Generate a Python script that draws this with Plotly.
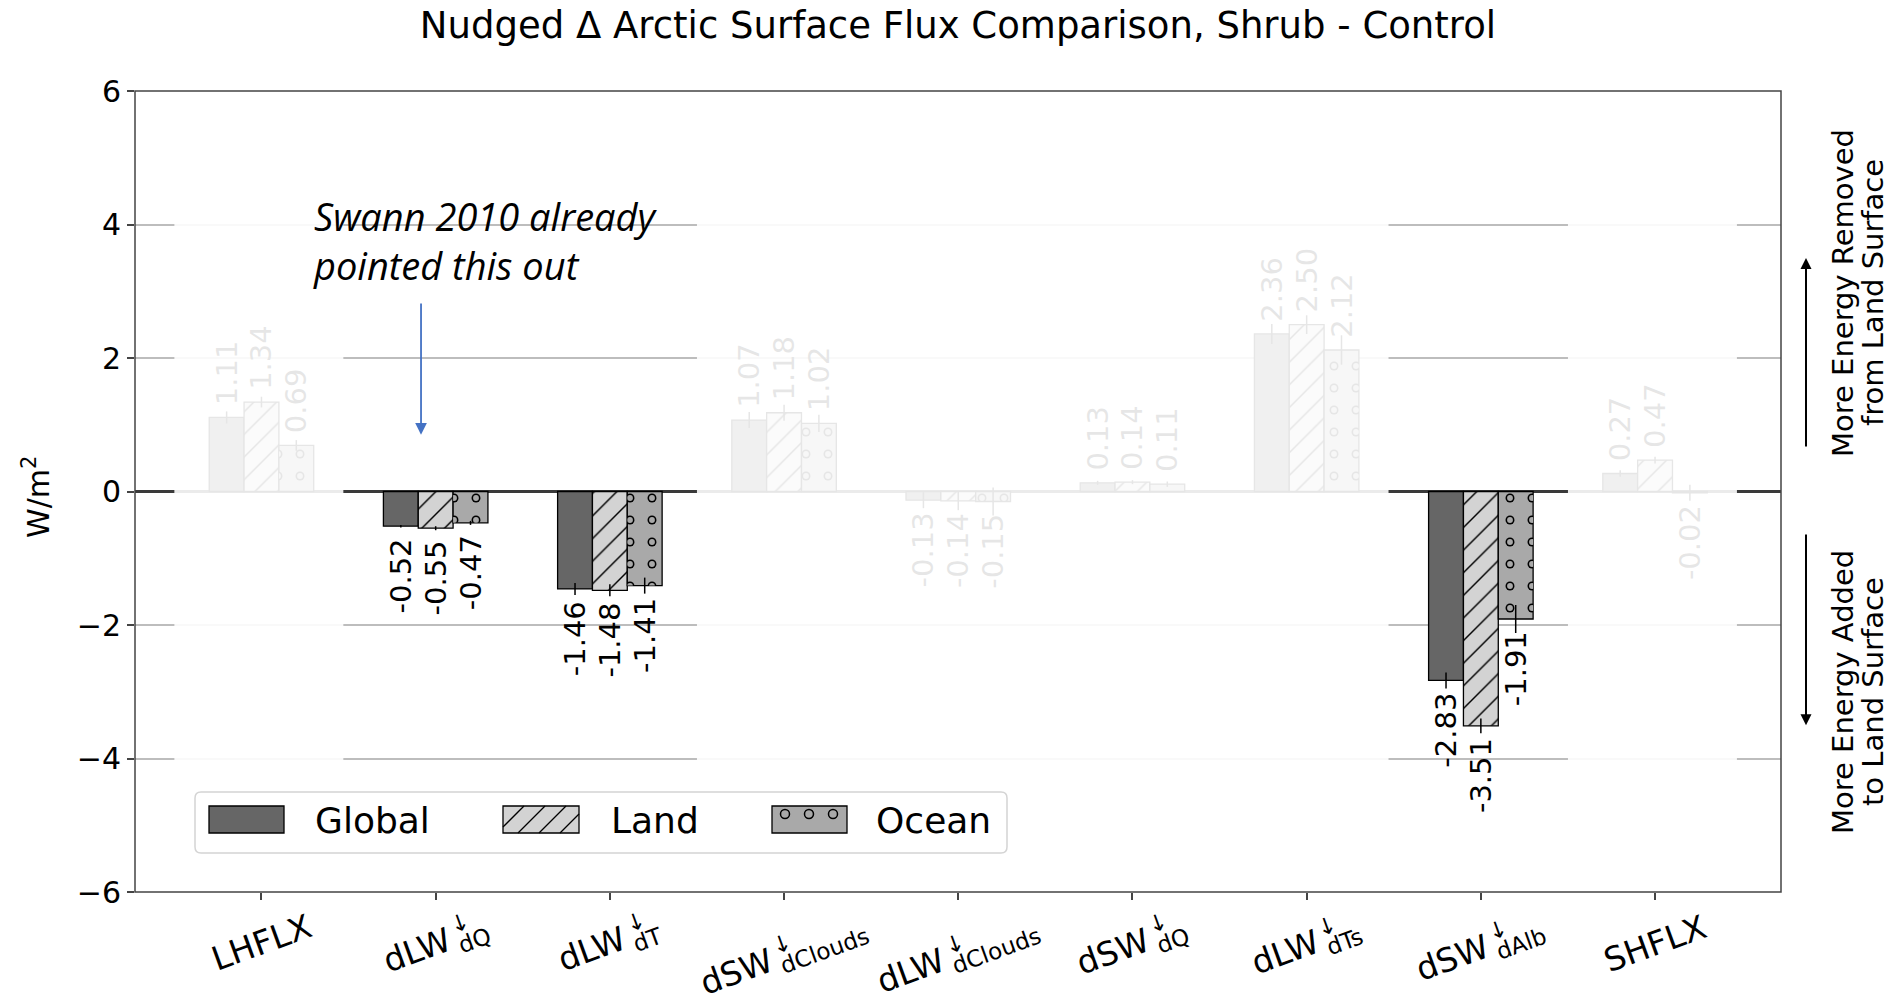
import math
import plotly.graph_objects as go

# ---- data -------------------------------------------------------------
label_main = ["LHFLX", "dLW", "dLW", "dSW", "dLW", "dSW", "dLW", "dSW", "SHFLX"]
label_sub = ["", "dQ", "dT", "dClouds", "dClouds", "dQ", "dTs", "dAlb", ""]

global_vals = [1.11, -0.52, -1.46, 1.07, -0.13, 0.13, 2.36, -2.83, 0.27]
land_vals = [1.34, -0.55, -1.48, 1.18, -0.14, 0.14, 2.50, -3.51, 0.47]
ocean_vals = [0.69, -0.47, -1.41, 1.02, -0.15, 0.11, 2.12, -1.91, -0.02]

global_err = [0.09, 0.02, 0.09, 0.12, 0.12, 0.03, 0.15, 0.12, 0.05]
land_err = [0.08, 0.03, 0.09, 0.12, 0.14, 0.03, 0.14, 0.11, 0.05]
ocean_err = [0.08, 0.03, 0.12, 0.13, 0.21, 0.04, 0.22, 0.21, 0.12]

# groups drawn at full strength; the rest are washed out
highlighted = [False, True, True, False, False, False, False, True, False]

y_ticks = [-6, -4, -2, 0, 2, 4, 6]

# ---- geometry ---------------------------------------------------------
FIG_W, FIG_H = 1891, 1003
L, R, T, B = 135, 1781, 91, 892
X_RANGE = [-0.726, 8.723]
Y_RANGE = [-6, 6]
BAR_W = 0.2
FONT = "DejaVu Sans"


def px_x(px):
    return (px - L) / (R - L)


def px_y(py):
    return (B - py) / (B - T)


xs = list(range(len(label_main)))
PAD = "\u00a0"


def bar_labels(vals):
    out = []
    for v in vals:
        s = f"{v:.2f}"
        out.append(s + PAD if v < 0 else PAD + s)
    return out


series = [
    dict(name="Global", vals=global_vals, err=global_err, offset=-0.3,
         marker=dict(color="#666666", line=dict(color="black", width=1.3))),
    dict(name="Land", vals=land_vals, err=land_err, offset=-0.1,
         marker=dict(color="#d3d3d3", line=dict(color="black", width=1.3),
                     pattern=dict(shape="/", fgcolor="black", bgcolor="#d3d3d3",
                                  size=16, solidity=0.09))),
    dict(name="Ocean", vals=ocean_vals, err=ocean_err, offset=0.1,
         marker=dict(color="#a9a9a9", line=dict(color="black", width=1.3),
                     pattern=dict(shape=".", fgcolor="black", bgcolor="#a9a9a9",
                                  size=22, solidity=0.13))),
]

fig = go.Figure()
for s in series:
    fig.add_trace(go.Bar(
        name=s["name"], x=xs, y=s["vals"], width=BAR_W, offset=s["offset"],
        marker=s["marker"],
        error_y=dict(type="data", array=s["err"], color="black", thickness=1.5, width=0),
        text=bar_labels(s["vals"]), textposition="outside", textangle=-90,
        textfont=dict(family=FONT, size=29, color="black"),
        constraintext="none", cliponaxis=False, hoverinfo="skip", showlegend=False,
    ))

# grey centres punched into the ocean dots -> open circles
fig.add_trace(go.Bar(
    x=xs, y=ocean_vals, width=BAR_W, offset=0.1,
    marker=dict(color="rgba(0,0,0,0)", line=dict(width=0),
                pattern=dict(shape=".", fgcolor="#a9a9a9", bgcolor="rgba(0,0,0,0)",
                             size=22, solidity=0.055)),
    hoverinfo="skip", showlegend=False,
))

# ---- shapes -----------------------------------------------------------
shapes = []

# white wash over the non-highlighted groups
n = len(label_main)
i = 0
while i < n:
    if not highlighted[i]:
        j = i
        while j + 1 < n and not highlighted[j + 1]:
            j += 1
        shapes.append(dict(type="rect", xref="x", yref="y", x0=i - 0.5, x1=j + 0.47,
                           y0=Y_RANGE[0], y1=Y_RANGE[1], fillcolor="white", opacity=0.9,
                           line=dict(width=0), layer="above"))
        i = j + 1
    else:
        i += 1

# axes frame
shapes.append(dict(type="rect", xref="paper", yref="paper", x0=0, x1=1, y0=0, y1=1,
                   line=dict(color="#444444", width=1.5), fillcolor="rgba(0,0,0,0)",
                   layer="above"))

# legend box (rounded)
lx0, lx1, ly0, ly1 = px_x(195), px_x(1007), px_y(853), px_y(792)
rx, ry = 6 / (R - L), 6 / (B - T)
box_path = (f"M{lx0+rx},{ly1} L{lx1-rx},{ly1} Q{lx1},{ly1} {lx1},{ly1-ry} "
            f"L{lx1},{ly0+ry} Q{lx1},{ly0} {lx1-rx},{ly0} L{lx0+rx},{ly0} "
            f"Q{lx0},{ly0} {lx0},{ly0+ry} L{lx0},{ly1-ry} Q{lx0},{ly1} {lx0+rx},{ly1} Z")
shapes.append(dict(type="path", xref="paper", yref="paper", path=box_path,
                   fillcolor="rgba(255,255,255,0.85)", line=dict(color="#d4d4d4", width=1.5),
                   layer="above"))


def patch(px0, px1, py0, py1, color):
    return dict(type="rect", xref="paper", yref="paper", x0=px_x(px0), x1=px_x(px1),
                y0=px_y(py1), y1=px_y(py0), fillcolor=color,
                line=dict(color="black", width=1.3), layer="above")


PY0, PY1 = 806, 833
shapes.append(patch(209, 284, PY0, PY1, "#666666"))
shapes.append(patch(503, 579, PY0, PY1, "#d3d3d3"))
shapes.append(patch(772, 847, PY0, PY1, "#a9a9a9"))

# legend hatch lines "/" inside the land patch
hx0, hx1 = 503, 579
step = 21
c = hx0 + PY1 - 6
while c < hx1 + PY1 + (PY1 - PY0):
    # line x + y = c  clipped to the patch
    pts = []
    for yy in (PY1, PY0):
        xx = c - yy
        if hx0 <= xx <= hx1:
            pts.append((xx, yy))
    for xx in (hx0, hx1):
        yy = c - xx
        if PY0 < yy < PY1:
            pts.append((xx, yy))
    if len(pts) >= 2:
        (ax_, ay_), (bx_, by_) = pts[0], pts[1]
        shapes.append(dict(type="line", xref="paper", yref="paper",
                           x0=px_x(ax_), y0=px_y(ay_), x1=px_x(bx_), y1=px_y(by_),
                           line=dict(color="black", width=1.3), layer="above"))
    c += step

# legend open circles in the ocean patch
for cx in (785, 809, 833):
    r = 4.5
    shapes.append(dict(type="circle", xref="paper", yref="paper",
                       x0=px_x(cx - r), x1=px_x(cx + r), y0=px_y(814 + r), y1=px_y(814 - r),
                       line=dict(color="black", width=1.5), fillcolor="#a9a9a9",
                       layer="above"))

# ---- annotations ------------------------------------------------------
ann = []

# category labels: main text + subscript, with a small down-arrow stacked
# above the start of the subscript (DejaVu Sans advance widths, per em)
ADV = {"d": .635, "L": .557, "W": .989, "S": .635, "H": .752, "F": .575, "X": .685,
       "Q": .787, "T": .611, "C": .698, "l": .278, "o": .612, "u": .634, "s": .521,
       "A": .684, "b": .635}
LAB_FS = 33
SUB_FS = LAB_FS * 0.7
ARR_FS = 23
GAP = 0.2 * LAB_FS          # thin space between main text and subscript
ANGLE = 20.0
LAB_SHIFT = 12              # gap between axis and label box
ca, sa = math.cos(math.radians(ANGLE)), math.sin(math.radians(ANGLE))
ASC, DESC = 0.928, 0.236


def text_w(s, fs):
    return sum(ADV.get(ch, 0.6) for ch in s) * fs


for xi, main, sub in zip(xs, label_main, label_sub):
    txt = f"{main}\u2009<sub>{sub}</sub>" if sub else main
    ann.append(dict(x=xi, y=0, xref="x", yref="paper", text=txt, showarrow=False,
                    xanchor="center", yanchor="top", yshift=-LAB_SHIFT, textangle=-ANGLE,
                    font=dict(family=FONT, size=LAB_FS, color="black")))
    if not sub:
        continue
    w_main = text_w(main, LAB_FS)
    w = w_main + GAP + text_w(sub, SUB_FS)
    asc = ASC * LAB_FS
    h = asc + max(DESC * LAB_FS, 0.3 * SUB_FS + DESC * SUB_FS)
    H = (w + 4) * sa + (h + 4) * ca
    # arrow centre in the label's own frame, relative to the box centre:
    # along the baseline over the first subscript letter, and just above
    # the subscript's ascenders
    lx = -w / 2 + w_main + GAP + 0.5 * ADV["d"] * SUB_FS
    baseline = -h / 2 + asc
    ly = baseline + 0.3 * SUB_FS - 0.76 * SUB_FS - 3 - 0.36 * ARR_FS
    sx = lx * ca + ly * sa
    sy = -lx * sa + ly * ca
    ann.append(dict(x=xi, y=0, xref="x", yref="paper", text="↓", showarrow=False,
                    xanchor="center", yanchor="middle",
                    xshift=sx, yshift=-(LAB_SHIFT + H / 2 + sy), textangle=-ANGLE,
                    font=dict(family=FONT, size=ARR_FS, color="black")))

# y-axis title
ann.append(dict(x=px_x(36), y=px_y(497), xref="paper", yref="paper", text="W/m<sup>2</sup>",
                showarrow=False, textangle=-90, xanchor="center", yanchor="middle",
                font=dict(family=FONT, size=30, color="black")))

# legend labels
for txt, px in (("Global", 313), ("Land", 609), ("Ocean", 874)):
    ann.append(dict(x=px_x(px), y=px_y(820), xref="paper", yref="paper", text=txt,
                    showarrow=False, xanchor="left", yanchor="middle",
                    font=dict(family=FONT, size=36, color="black")))

# side captions and arrows
for txt, cx, cy in (("More Energy Removed", 1843, 293), ("from Land Surface", 1873, 293),
                    ("More Energy Added", 1843, 692), ("to Land Surface", 1873, 692)):
    ann.append(dict(x=px_x(cx), y=px_y(cy), xref="paper", yref="paper", text=txt,
                    showarrow=False, textangle=-90, xanchor="center", yanchor="middle",
                    font=dict(family=FONT, size=29, color="black")))

ARROW_X = px_x(1806)
ann.append(dict(x=ARROW_X, y=3.5, xref="paper", yref="y", ax=0, axref="pixel",
                ay=0.65, ayref="y", text="", showarrow=True, arrowhead=2,
                arrowsize=1.1, arrowwidth=2, arrowcolor="black", standoff=0))
ann.append(dict(x=ARROW_X, y=-3.5, xref="paper", yref="y", ax=0, axref="pixel",
                ay=-0.62, ayref="y", text="", showarrow=True, arrowhead=2,
                arrowsize=1.1, arrowwidth=2, arrowcolor="black", standoff=0))

# note pointing at the dLW_dQ group
ann.append(dict(x=px_x(311), y=px_y(240), xref="paper", yref="paper",
                text="<i>Swann 2010 already<br>pointed this out</i>", showarrow=False,
                xanchor="left", yanchor="middle", align="left",
                font=dict(family="Open Sans", size=38, color="black")))
ann.append(dict(x=0.916, y=0.85, xref="x", yref="y", ax=0, axref="pixel",
                ay=2.84, ayref="y", text="", showarrow=True, arrowhead=2,
                arrowsize=1.3, arrowwidth=1.8, arrowcolor="#4472C4", standoff=0))

# ---- layout -----------------------------------------------------------
fig.update_layout(
    template="none",
    width=FIG_W, height=FIG_H,
    margin=dict(l=L, r=FIG_W - R, t=T, b=FIG_H - B, pad=0),
    paper_bgcolor="white", plot_bgcolor="white",
    barmode="overlay",
    font=dict(family=FONT, color="black"),
    title=dict(text="Nudged Δ Arctic Surface Flux Comparison, Shrub - Control",
               x=0.5, xref="paper", xanchor="center",
               y=1 - 25 / FIG_H, yref="container", yanchor="middle",
               font=dict(family=FONT, size=37, color="black")),
    xaxis=dict(range=X_RANGE, tickmode="array", tickvals=xs, showticklabels=False,
               ticks="outside", ticklen=7, tickwidth=1.5, tickcolor="#444444",
               showgrid=False, zeroline=False, showline=False, automargin=False,
               fixedrange=True),
    yaxis=dict(range=Y_RANGE, tickmode="array", tickvals=y_ticks,
               ticks="outside", ticklen=7, tickwidth=1.5, tickcolor="#444444",
               tickfont=dict(family=FONT, size=30, color="black"),
               showgrid=True, gridcolor="#bdbdbd", gridwidth=1.5,
               zeroline=True, zerolinecolor="#3a3a3a", zerolinewidth=3,
               showline=False, automargin=False, fixedrange=True),
    showlegend=False,
    shapes=shapes,
    annotations=ann,
)

fig.write_html("out.html")
